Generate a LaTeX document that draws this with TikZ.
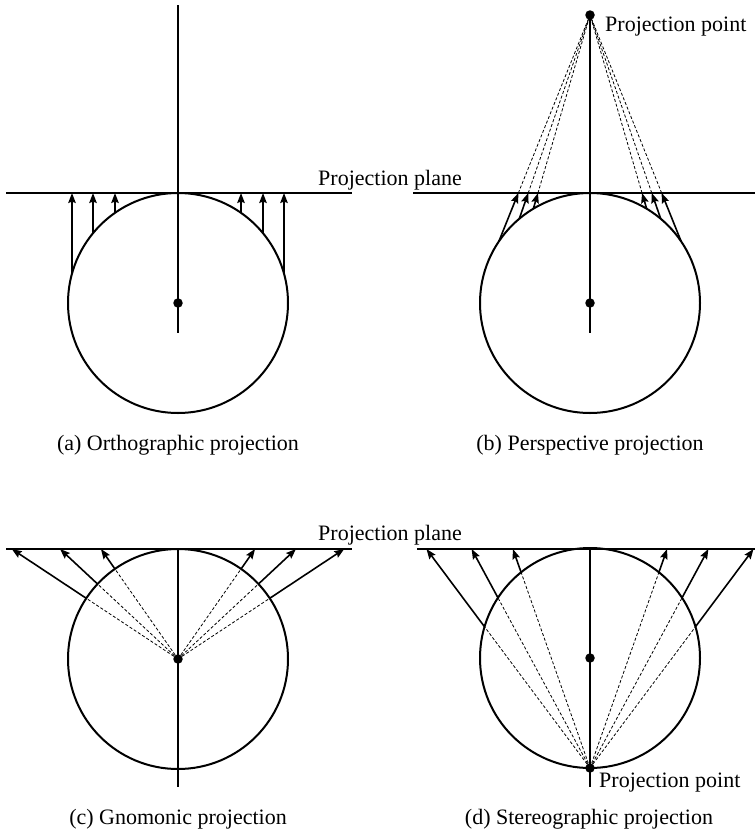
\documentclass[tikz,border=0pt]{standalone}
\usepackage{fontspec}
\setmainfont{Liberation Serif}
\usetikzlibrary{arrows.meta,calc}
\begin{document}
\begin{tikzpicture}[x=1pt,y=-1pt,
  axisline/.style={line width=1.1pt},
  sphere/.style={line width=2pt},
  ray/.style={line width=1.6pt,-{Stealth[length=10pt,width=7.5pt,inset=1.5pt]}},
  guide/.style={line width=0.8pt,dash pattern=on 3pt off 2pt},
  dot/.style={circle,fill,inner sep=0pt,minimum size=9.5pt},
  lbl/.style={font=\fontsize{22}{26}\selectfont,inner sep=0pt}]
\useasboundingbox (0,0) rectangle (755,833);

% ---------- (a) Orthographic ----------
\coordinate (Ca) at (178,303);
\coordinate (aTop) at (178,5);
\coordinate (aBot) at (178,333);
\coordinate (aPL) at (6,193);
\coordinate (aPR) at (352,193);
\draw[axisline] (aPL) -- (aPR);
\draw[axisline] (aTop) -- (aBot);
\draw[sphere] (Ca) circle[radius=110pt];
\foreach \dx [count=\i] in {-106,-85,-63,63,85,106} {
  \coordinate (a\i) at ($(Ca)+(\dx,{-sqrt(12100-\dx*\dx)})$);
  \coordinate (ta\i) at (a\i |- aPL);
  \draw[ray] (a\i) -- (ta\i);
}
\node[dot] (ca) at (Ca) {};

% ---------- (b) Perspective ----------
\coordinate (Cb) at (590,303);
\coordinate (PPb) at (590,15);
\coordinate (bBot) at (590,333);
\coordinate (bPL) at (413,193);
\coordinate (bPR) at (755,193);
\draw[axisline] (bPL) -- (bPR);
\draw[axisline] (PPb) -- (bBot);
\draw[sphere] (Cb) circle[radius=110pt];
\foreach \ang [count=\i] in {-56,-40,-31,31,40,56} {
  \coordinate (b\i) at ($(Cb)+({110*sin(\ang)},{-110*cos(\ang)})$);
  \coordinate (tb\i) at ($(PPb)!{178/(288-110*cos(\ang))}!(b\i)$);
  \draw[guide] (tb\i) -- (PPb);
  \draw[ray] (b\i) -- (tb\i);
}
\node[dot] (cb) at (Cb) {};
\node[dot] (ppb) at (PPb) {};

% ---------- (c) Gnomonic ----------
\coordinate (Cc) at (178,659);
\coordinate (cTop) at (178,549);
\coordinate (cBot) at (178,787);
\coordinate (cPL) at (6,549);
\coordinate (cPR) at (352,549);
\draw[axisline] (cPL) -- (cPR);
\draw[axisline] (cTop) -- (cBot);
\draw[sphere] (Cc) circle[radius=110pt];
\foreach \ang [count=\i] in {-56.5,-47,-35,35,47,56.5} {
  \coordinate (c\i) at ($(Cc)+({110*sin(\ang)},{-110*cos(\ang)})$);
  \coordinate (tc\i) at ($(Cc)!{1/cos(\ang)}!(c\i)$);
  \draw[guide] (Cc) -- (c\i);
  \draw[ray] (c\i) -- (tc\i);
}
\node[dot] (cc) at (Cc) {};

% ---------- (d) Stereographic ----------
\coordinate (Cd) at (590,658);
\coordinate (Sd) at (590,768);
\coordinate (dTop) at (590,549);
\coordinate (dBot) at (590,787);
\coordinate (dPL) at (417,549);
\coordinate (dPR) at (755,549);
\draw[axisline] (dPL) -- (dPR);
\draw[axisline] (dTop) -- (dBot);
\draw[sphere] (Cd) circle[radius=110pt];
\foreach \ang [count=\i] in {-73.5,-56.8,-38.8,38.8,56.8,73.5} {
  \coordinate (d\i) at ($(Cd)+({110*sin(\ang)},{-110*cos(\ang)})$);
  \coordinate (td\i) at ($(Sd)!{219/(110+110*cos(\ang))}!(d\i)$);
  \draw[guide] (Sd) -- (d\i);
  \draw[ray] (d\i) -- (td\i);
}
\node[dot] (cd) at (Cd) {};
\node[dot] (sd) at (Sd) {};

% ---------- labels ----------
\node[lbl,anchor=base west] (lplane1) at (318,185) {Projection plane};
\node[lbl,anchor=base west] (lpoint1) at (605,31) {Projection point};
\node[lbl,anchor=base west] (lplane2) at (318,540) {Projection plane};
\node[lbl,anchor=base west] (lpoint2) at (599,787) {Projection point};
\node[lbl,anchor=base] (capa) at (178,450) {(a) Orthographic projection};
\node[lbl,anchor=base] (capb) at (590,450) {(b) Perspective projection};
\node[lbl,anchor=base] (capc) at (178,824) {(c) Gnomonic projection};
\node[lbl,anchor=base] (capd) at (589,824) {(d) Stereographic projection};
\end{tikzpicture}
\end{document}
